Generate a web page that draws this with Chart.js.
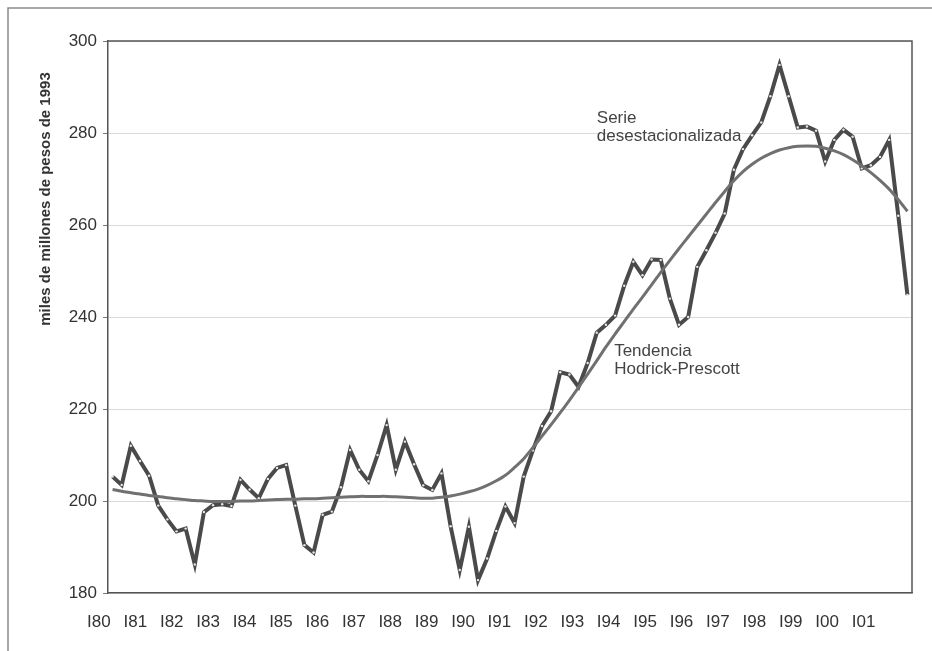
<!DOCTYPE html>
<html>
<head>
<meta charset="utf-8">
<script src="https://cdn.jsdelivr.net/npm/chart.js@4"></script>
<style>
  html, body { margin: 0; padding: 0; background: #fff; }
  #wrap { width: 932px; height: 651px; }
</style>
</head>
<body>
<div id="wrap"><canvas id="pib" width="932" height="651"></canvas></div>
<script>
// year labels (first quarter of each year)
const yearLabels = ['I80','I81','I82','I83','I84','I85','I86','I87','I88','I89','I90',
  'I91','I92','I93','I94','I95','I96','I97','I98','I99','I00','I01'];

const yTicks = [180, 200, 220, 240, 260, 280, 300];

// quarterly seasonally adjusted series, 1980.I - 2001.IV
const serie = [
  205.3, 203.5, 212.0, 208.7, 205.5, 199.0, 196.0, 193.4, 194.0, 186.2,
  197.6, 199.1, 199.3, 198.9, 204.6, 202.5, 200.6, 204.8, 207.2, 207.8,
  199.0, 190.4, 188.8, 197.0, 197.7, 203.0, 211.1, 206.8, 204.3, 210.0,
  216.5, 206.8, 212.9, 208.0, 203.4, 202.4, 206.0, 194.5, 185.0, 194.4,
  182.8, 187.5, 193.5, 198.8, 195.2, 205.3, 211.0, 216.3, 219.5, 228.0,
  227.5, 224.8, 230.0, 236.6, 238.3, 240.3, 246.8, 252.0, 249.1, 252.5,
  252.4, 244.0, 238.3, 240.0, 250.9, 254.5, 258.3, 262.5, 272.0, 276.5,
  279.5, 282.3, 288.0, 294.8, 288.0, 281.2, 281.4, 280.5, 273.8, 278.5,
  280.7, 279.2, 272.3, 273.0, 274.8, 278.5, 262.0, 244.8
];

// Hodrick-Prescott trend
const tendencia = [
  202.5, 202.1, 201.8, 201.5, 201.2, 201.0, 200.7, 200.5, 200.3, 200.1,
  200.0, 199.9, 199.9, 199.9, 200.0, 200.0, 200.1, 200.2, 200.3, 200.4,
  200.4, 200.5, 200.5, 200.6, 200.7, 200.8, 200.9, 201.0, 201.0, 201.0,
  201.0, 200.9, 200.8, 200.7, 200.6, 200.6, 200.8, 201.1, 201.5, 202.0,
  202.6, 203.4, 204.4, 205.6, 207.3, 209.2, 211.6, 214.1, 216.6, 219.2,
  221.9, 224.7, 227.6, 230.5, 233.5, 236.3, 239.0, 241.7, 244.3, 247.0,
  249.7, 252.3, 254.9, 257.4, 259.9, 262.4, 264.9, 267.3, 269.6, 271.6,
  273.2, 274.5, 275.5, 276.3, 276.8, 277.1, 277.2, 277.1, 276.7, 276.1,
  275.3, 274.2, 272.9, 271.4, 269.7, 267.8, 265.5, 263.0
];

const notes = [
  { lines: ['Serie', 'desestacionalizada'], x: 53.0, y: 283.3 },
  { lines: ['Tendencia', 'Hodrick-Prescott'], x: 54.9, y: 232.6 }
];

const FONT = '"Liberation Sans", Arial, sans-serif';

const frame = {
  id: 'frame',
  beforeDraw(chart) {
    const c = chart.ctx;
    c.save();
    c.strokeStyle = '#8a8a8a';
    c.lineWidth = 1.5;
    c.beginPath();
    c.moveTo(8, 651); c.lineTo(8, 8); c.lineTo(932, 8);
    c.stroke();
    c.restore();
  },
  afterDraw(chart) {
    const c = chart.ctx, a = chart.chartArea;
    const xs = chart.scales.x, ys = chart.scales.y;
    c.save();
    c.strokeStyle = '#555';
    c.lineWidth = 1.5;
    c.beginPath();
    c.moveTo(a.left, a.top); c.lineTo(a.right, a.top); c.lineTo(a.right, a.bottom);
    c.stroke();

    // y axis title
    c.fillStyle = '#333';
    c.font = 'bold 15px ' + FONT;
    c.textAlign = 'center';
    c.textBaseline = 'middle';
    c.translate(46, a.top + 158);
    c.rotate(-Math.PI / 2);
    c.fillText('miles de millones de pesos de 1993', 0, 0);
    c.restore();

    c.save();
    c.fillStyle = '#444';
    c.font = '17px ' + FONT;
    c.textAlign = 'left';
    c.textBaseline = 'middle';
    notes.forEach(n => {
      const px = xs.getPixelForValue(n.x), py = ys.getPixelForValue(n.y);
      n.lines.forEach((t, k) => c.fillText(t, px, py + k * 18));
    });
    c.restore();
  }
};

new Chart(document.getElementById('pib').getContext('2d'), {
  type: 'line',
  data: {
    datasets: [
      {
        label: 'Tendencia Hodrick-Prescott',
        data: tendencia.map((v, i) => ({ x: i, y: v })),
        borderColor: '#707070',
        borderWidth: 3,
        pointRadius: 0,
        tension: 0.3,
        order: 1
      },
      {
        label: 'Serie desestacionalizada',
        data: serie.map((v, i) => ({ x: i, y: v })),
        borderColor: '#4a4a4a',
        borderWidth: 4,
        pointRadius: 1.2,
        pointBorderWidth: 0,
        pointBackgroundColor: '#e8e8e8',
        tension: 0,
        order: 2
      }
    ]
  },
  options: {
    responsive: false,
    devicePixelRatio: 1,
    animation: false,
    layout: { padding: { top: 41, right: 20, left: 0, bottom: 0 } },
    plugins: { legend: { display: false }, tooltip: { enabled: false } },
    scales: {
      x: {
        type: 'linear', min: -0.5, max: 87.5, display: false
      },
      xl: {
        type: 'linear', position: 'bottom', axis: 'x',
        min: 0.25, max: 22.33,
        grid: { display: false, drawTicks: false },
        border: { display: true, color: '#555', width: 1.5 },
        afterBuildTicks: s => { s.ticks = yearLabels.map((_, k) => ({ value: k })); },
        afterFit: s => { s.height = 58; },
        ticks: {
          autoSkip: false, maxRotation: 0, padding: 19,
          color: '#333', font: { size: 17, family: FONT },
          callback: v => yearLabels[v]
        }
      },
      y: {
        min: 180, max: 300,
        afterBuildTicks: s => { s.ticks = yTicks.map(v => ({ value: v })); },
        afterFit: s => { s.width = 108; },
        grid: { color: '#d9d9d9', tickColor: '#777', tickLength: 5 },
        border: { color: '#555', width: 1.5 },
        ticks: { padding: 6, color: '#333', font: { size: 17, family: FONT } }
      }
    }
  },
  plugins: [frame]
});
</script>
</body>
</html>
